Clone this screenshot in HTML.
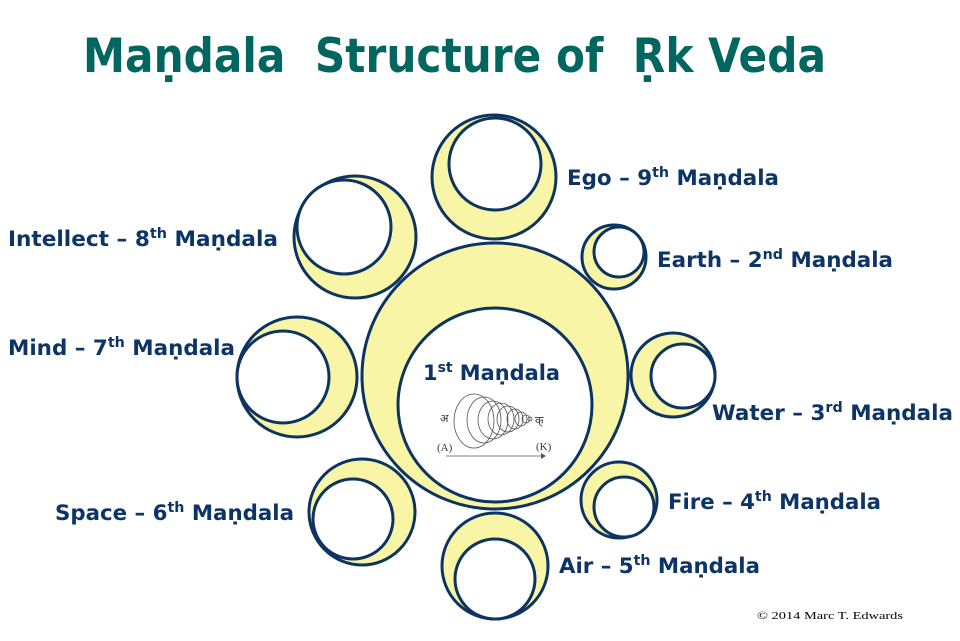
<!DOCTYPE html>
<html><head><meta charset="utf-8"><style>html,body{margin:0;padding:0;background:#fff}svg{display:block}</style></head>
<body>
<svg width="960" height="641" viewBox="0 0 960 641" xmlns="http://www.w3.org/2000/svg">
<g stroke="#0d3461" stroke-width="3">
<circle cx="495" cy="376" r="133" fill="#f8f6a6"/><circle cx="495" cy="405" r="97" fill="#fff"/>
<circle cx="494" cy="177" r="62" fill="#f8f6a6"/><circle cx="495" cy="164" r="46" fill="#fff"/>
<circle cx="355" cy="237" r="61" fill="#f8f6a6"/><circle cx="344" cy="227" r="47" fill="#fff"/>
<circle cx="614" cy="257" r="32" fill="#f8f6a6"/><circle cx="619" cy="252" r="25" fill="#fff"/>
<circle cx="297" cy="377" r="60" fill="#f8f6a6"/><circle cx="283" cy="377" r="46" fill="#fff"/>
<circle cx="673" cy="375" r="42" fill="#f8f6a6"/><circle cx="683" cy="376" r="32" fill="#fff"/>
<circle cx="362" cy="512" r="53" fill="#f8f6a6"/><circle cx="353" cy="519" r="40" fill="#fff"/>
<circle cx="619" cy="500" r="38" fill="#f8f6a6"/><circle cx="624" cy="507" r="30" fill="#fff"/>
<circle cx="495" cy="566" r="53" fill="#f8f6a6"/><circle cx="495" cy="579" r="40" fill="#fff"/>
</g>
<g fill="none" stroke="#555" stroke-width="0.8">
<ellipse cx="474" cy="421" rx="20" ry="27"/><ellipse cx="484" cy="420" rx="17" ry="23"/>
<ellipse cx="493" cy="420" rx="15" ry="19"/><ellipse cx="501" cy="419" rx="13" ry="16"/>
<ellipse cx="508" cy="419" rx="11" ry="13"/><ellipse cx="515" cy="419" rx="8" ry="10"/>
<ellipse cx="521" cy="419" rx="6" ry="7"/><ellipse cx="526" cy="419" rx="4" ry="4"/>
<ellipse cx="530" cy="419" rx="2" ry="2"/>
<line x1="446" y1="456" x2="543" y2="456"/>
</g>
<path d="M541 453 L546 456 L541 459 Z" fill="#555"/>
<g font-family="'Liberation Serif','Noto Serif CJK SC',serif" font-size="11" fill="#333">
<text x="440" y="422">अ</text><text x="535" y="424">क्</text>
<text x="437" y="451">(A)</text><text x="536" y="450">(K)</text>
</g>
<text x="83" y="72" textLength="743" lengthAdjust="spacingAndGlyphs" font-family="'DejaVu Sans',sans-serif" font-weight="bold" font-size="47" fill="#00665f">Maṇdala&#160; Structure of&#160; Ṛk Veda</text>
<g font-family="'DejaVu Sans',sans-serif" font-weight="bold" font-size="21" fill="#0d3466">
<text x="567" y="185" textLength="212" lengthAdjust="spacingAndGlyphs">Ego – 9<tspan font-size="14" dy="-8">th</tspan><tspan dy="8"> Maṇdala</tspan></text>
<text x="8" y="246" textLength="270" lengthAdjust="spacingAndGlyphs">Intellect – 8<tspan font-size="14" dy="-8">th</tspan><tspan dy="8"> Maṇdala</tspan></text>
<text x="657" y="267" textLength="236" lengthAdjust="spacingAndGlyphs">Earth – 2<tspan font-size="14" dy="-8">nd</tspan><tspan dy="8"> Maṇdala</tspan></text>
<text x="8" y="355" textLength="227" lengthAdjust="spacingAndGlyphs">Mind – 7<tspan font-size="14" dy="-8">th</tspan><tspan dy="8"> Maṇdala</tspan></text>
<text x="423" y="380" textLength="137" lengthAdjust="spacingAndGlyphs">1<tspan font-size="14" dy="-8">st</tspan><tspan dy="8"> Maṇdala</tspan></text>
<text x="712" y="420" textLength="241" lengthAdjust="spacingAndGlyphs">Water – 3<tspan font-size="14" dy="-8">rd</tspan><tspan dy="8"> Maṇdala</tspan></text>
<text x="55" y="520" textLength="239" lengthAdjust="spacingAndGlyphs">Space – 6<tspan font-size="14" dy="-8">th</tspan><tspan dy="8"> Maṇdala</tspan></text>
<text x="668" y="509" textLength="213" lengthAdjust="spacingAndGlyphs">Fire – 4<tspan font-size="14" dy="-8">th</tspan><tspan dy="8"> Maṇdala</tspan></text>
<text x="559" y="573" textLength="201" lengthAdjust="spacingAndGlyphs">Air – 5<tspan font-size="14" dy="-8">th</tspan><tspan dy="8"> Maṇdala</tspan></text>
</g>
<text x="757" y="619" textLength="146" lengthAdjust="spacingAndGlyphs" font-family="'Liberation Serif',serif" font-size="11" fill="#000">© 2014 Marc T. Edwards</text>
</svg>
</body></html>
